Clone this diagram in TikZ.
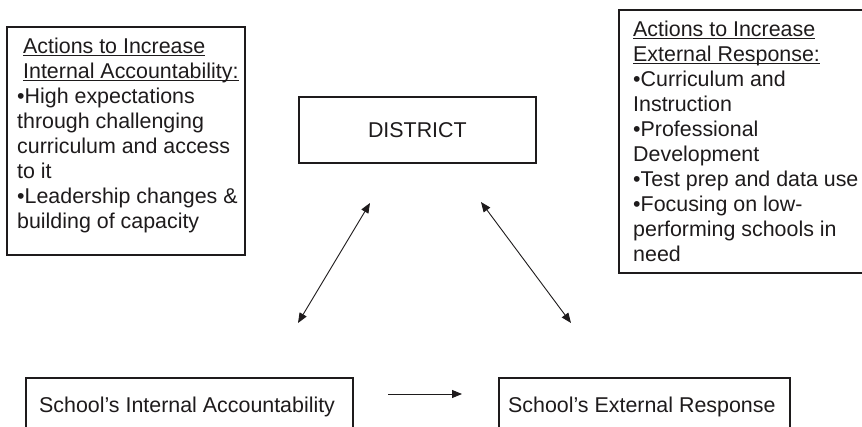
\documentclass[tikz,border=0pt]{standalone}
\usepackage{fontspec}
\setmainfont{Liberation Sans}
\usetikzlibrary{arrows.meta}
\definecolor{ink}{RGB}{30,27,28}
% underline that sits just under the baseline and crosses descenders
\newcommand\titleline[1]{\setbox0\hbox{#1}\rlap{\color{ink}\rule[-2.6pt]{\wd0}{1.4pt}}\box0}
\begin{document}
\begin{tikzpicture}[x=1pt,y=-1pt,
  every node/.style={text=ink, font=\fontsize{21.4}{25}\selectfont, inner sep=0pt},
  frame/.style={draw=ink, line width=1.7pt, anchor=north west},
  notes/.style={align=left, anchor=north west},
  linkarrow/.style={draw=ink, line width=0.9pt, {Triangle[length=10pt,width=8pt]}-{Triangle[length=10pt,width=8pt]}},
  flowarrow/.style={draw=ink, line width=0.9pt, -{Triangle[length=10pt,width=8pt]}},
]
\useasboundingbox (0,0) rectangle (862,427);
\clip (0,0) rectangle (862,427);
\fill[white] (0,0) rectangle (862,427);

% action panels
\node[frame, minimum width=238pt, minimum height=228pt] (intpanel) at (6,26) {};
\node[notes] (inttext) at (17,38) {%
\hspace*{6pt}\titleline{Actions to Increase}\\
\hspace*{6pt}\titleline{Internal Accountability:}\\
•High expectations\\
through challenging\\
curriculum and access\\
to it\\
•Leadership changes \&\\
building of capacity};

\node[frame, minimum width=262pt, minimum height=263pt] (extpanel) at (618,9) {};
\node[notes] (exttext) at (633,21) {%
\titleline{Actions to Increase}\\
\titleline{External Response:}\\
•Curriculum and\\
Instruction\\
•Professional\\
Development\\
•Test prep and data use\\
•Focusing on low-\\
performing schools in\\
need};

% district
\node[frame, minimum width=237pt, minimum height=66pt] (district) at (298,96) {DISTRICT};

% school boxes
\node[frame, minimum width=327pt, minimum height=80pt] (internal) at (25,377) {};
\node[anchor=base west] (internallabel) at (39,413) {School’s Internal Accountability};
\node[frame, minimum width=291pt, minimum height=80pt] (external) at (498,377) {};
\node[anchor=base west] (externallabel) at (508,413) {School’s External Response};

% connectors
\coordinate (dL) at (370,203);
\coordinate (sL) at (298,323);
\coordinate (dR) at (481,202);
\coordinate (sR) at (571,323);
\coordinate (fa) at (388,394);
\coordinate (fb) at (462,394);
\draw[linkarrow] (dL) -- (sL);
\draw[linkarrow] (dR) -- (sR);
\draw[flowarrow] (fa) -- (fb);
\end{tikzpicture}
\end{document}
